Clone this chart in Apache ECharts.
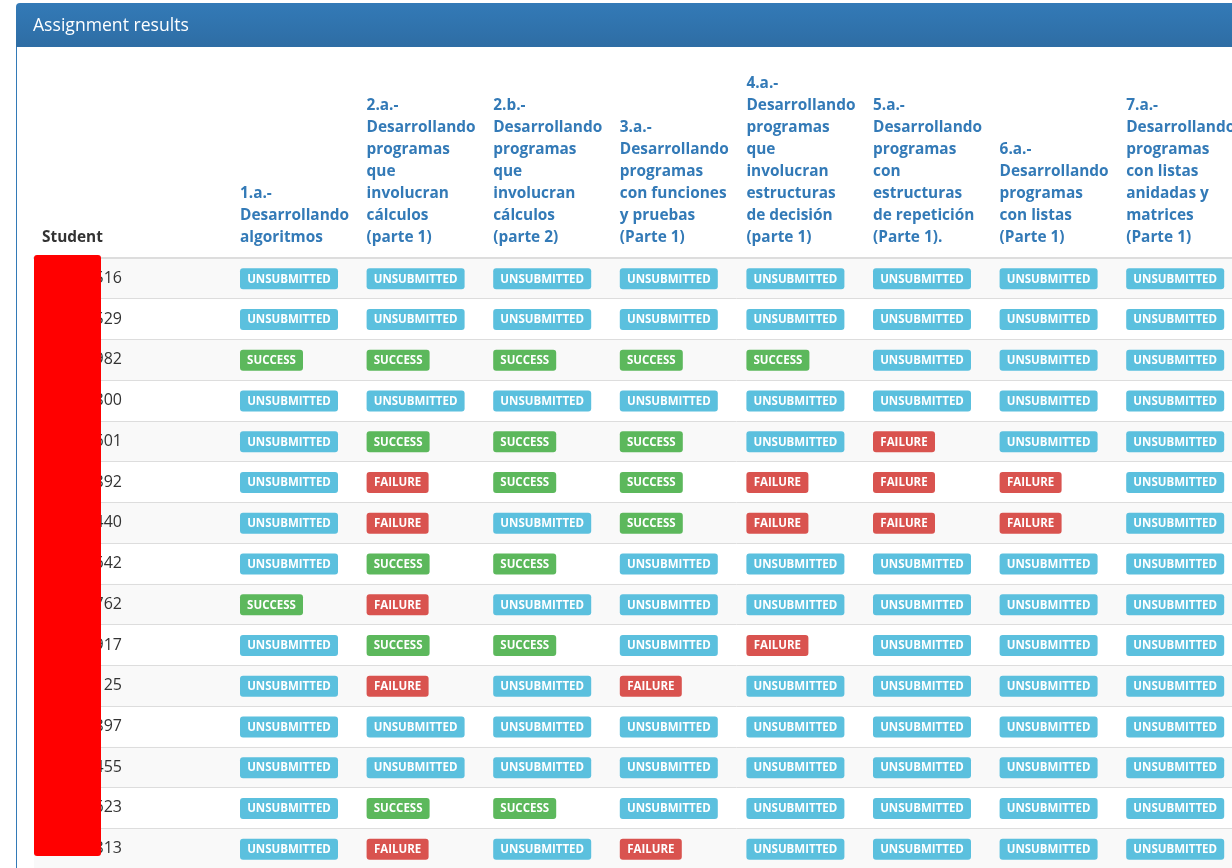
<!DOCTYPE html>
<html>
<head>
<meta charset="utf-8">
<title>Assignment results</title>
<script src="https://cdn.jsdelivr.net/npm/echarts@6/dist/echarts.min.js"></script>
<style>
html, body { margin: 0; padding: 0; background: #fff; overflow: hidden; }
#main { width: 1232px; height: 868px; }
</style>
</head>
<body>
<div id="main"></div>
<script>
var assignments = [
  '1.a.-\nDesarrollando\nalgoritmos',
  '2.a.-\nDesarrollando\nprogramas\nque\ninvolucran\ncálculos\n(parte 1)',
  '2.b.-\nDesarrollando\nprogramas\nque\ninvolucran\ncálculos\n(parte 2)',
  '3.a.-\nDesarrollando\nprogramas\ncon funciones\ny pruebas\n(Parte 1)',
  '4.a.-\nDesarrollando\nprogramas\nque\ninvolucran\nestructuras\nde decisión\n(parte 1)',
  '5.a.-\nDesarrollando\nprogramas\ncon\nestructuras\nde repetición\n(Parte 1).',
  '6.a.-\nDesarrollando\nprogramas\ncon listas\n(Parte 1)',
  '7.a.-\nDesarrollando\nprogramas\ncon listas\nanidadas y\nmatrices\n(Parte 1)'
];
// only the end of each id is visible in the picture
var students = ['516', '529', '982', '800', '601', '892', '440', '642', '762', '917', '125', '897', '455', '623', '813'];
var statusNames = ['UNSUBMITTED', 'SUCCESS', 'FAILURE'];
var statusColors = ['#5bc0de', '#5cb85c', '#d9534f'];
var statusWidths = [98, 63, 62];

var U = 0, S = 1, F = 2;
var results = [
  [U, U, U, U, U, U, U, U],
  [U, U, U, U, U, U, U, U],
  [S, S, S, S, S, U, U, U],
  [U, U, U, U, U, U, U, U],
  [U, S, S, S, U, F, U, U],
  [U, F, S, S, F, F, F, U],
  [U, F, U, S, F, F, F, U],
  [U, S, S, U, U, U, U, U],
  [S, F, U, U, U, U, U, U],
  [U, S, S, U, F, U, U, U],
  [U, F, U, F, U, U, U, U],
  [U, U, U, U, U, U, U, U],
  [U, U, U, U, U, U, U, U],
  [U, S, S, U, U, U, U, U],
  [U, F, U, F, U, U, U, U]
];

var cells = [];
results.forEach(function (row, r) {
  row.forEach(function (status, c) {
    cells.push([c, r, status]);
  });
});

var font = '"Open Sans", sans-serif';
var tableTop = 258, tableHeight = 611;

function renderBadge(params, api) {
  var p = api.coord([api.value(0), api.value(1)]);
  var status = api.value(2);
  return {
    type: 'group',
    children: [{
      type: 'rect',
      shape: { x: p[0], y: p[1] - 10, width: statusWidths[status], height: 21, r: 3 },
      style: { fill: statusColors[status] }
    }, {
      type: 'text',
      style: {
        x: p[0] + statusWidths[status] / 2,
        y: p[1] + 1,
        text: statusNames[status],
        fill: '#fff',
        font: 'bold 11.5px ' + font,
        align: 'center',
        verticalAlign: 'middle'
      }
    }]
  };
}

function rowAxis(gridIndex, label) {
  return {
    type: 'category',
    gridIndex: gridIndex,
    inverse: true,
    data: students,
    axisLine: { show: false },
    axisTick: { show: false },
    axisLabel: label,
    splitLine: { show: true, interval: 0, lineStyle: { color: '#ddd', width: 1 } },
    splitArea: { show: true, interval: 0, areaStyle: { color: ['#f9f9f9', '#ffffff'] } }
  };
}

function headerAxis(gridIndex, names, max, label) {
  return {
    type: 'category',
    gridIndex: gridIndex,
    position: 'top',
    boundaryGap: false,
    data: names,
    min: 0,
    max: max,
    axisLine: { show: true, lineStyle: { color: '#ddd', width: 2 } },
    axisTick: { show: false },
    splitLine: { show: false },
    axisLabel: label
  };
}

var myChart = echarts.init(document.getElementById('main'));
var option = {
  animation: false,
  backgroundColor: '#fff',
  title: {
    text: 'Assignment results',
    left: 33,
    top: 17,
    padding: 0,
    z: 200,
    textStyle: { color: '#fff', fontFamily: font, fontWeight: 'normal', fontSize: 17.6 }
  },
  grid: [
    { left: 34, top: tableTop, width: 206, height: tableHeight, outerBoundsMode: 'none' },
    { left: 240, top: tableTop, width: 1012.8, height: tableHeight, outerBoundsMode: 'none' }
  ],
  xAxis: [
    headerAxis(0, ['Student'], 1, {
      interval: 0, align: 'left', verticalAlign: 'bottom', margin: 9,
      padding: [0, 0, 0, 8], lineHeight: 22,
      color: '#333', fontFamily: font, fontWeight: 'bold', fontSize: 15.4,
      formatter: function (v) { return v || ''; }
    }),
    headerAxis(1, assignments, 8, {
      interval: 0, align: 'left', verticalAlign: 'bottom', margin: 9, lineHeight: 22,
      color: '#337ab7', fontFamily: font, fontWeight: 'bold', fontSize: 15.4,
      formatter: function (v) { return v || ''; }
    })
  ],
  yAxis: [
    rowAxis(0, {
      interval: 0, inside: true, align: 'right', margin: 88,
      color: '#333', fontFamily: font, fontSize: 16
    }),
    rowAxis(1, { show: false })
  ],
  graphic: [{
    type: 'rect', z: 100,
    shape: { x: 16, y: 3, width: 1230, height: 44, r: [4, 0, 0, 0] },
    style: {
      fill: new echarts.graphic.LinearGradient(0, 0, 0, 1, [
        { offset: 0, color: '#337ab7' },
        { offset: 1, color: '#2e6da4' }
      ])
    }
  }, {
    type: 'rect', z: 100,
    shape: { x: 16, y: 47, width: 1, height: 821 },
    style: { fill: '#337ab7' }
  }, {
    // the redaction block over the student ids
    type: 'rect', z: 100,
    shape: { x: 34, y: 255, width: 67, height: 601, r: 3 },
    style: { fill: '#ff0000' }
  }],
  series: [{
    type: 'custom',
    xAxisIndex: 1,
    yAxisIndex: 1,
    data: cells,
    clip: false,
    renderItem: renderBadge
  }]
};
myChart.setOption(option);
</script>
</body>
</html>
